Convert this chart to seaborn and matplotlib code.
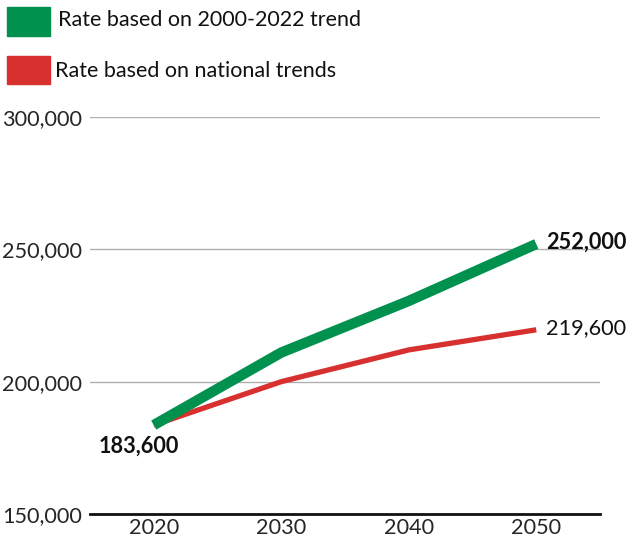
import numpy as np
import pandas as pd
import matplotlib
matplotlib.use("Agg")
import matplotlib.pyplot as plt
from matplotlib.patches import Rectangle
from matplotlib.ticker import FuncFormatter
import seaborn as sns

# data
years = [2020, 2030, 2040, 2050]
trend_2000_2022 = [183600, 211000, 230500, 252000]
national_trends = [183600, 200000, 212000, 219600]
series_names = ["Rate based on 2000-2022 trend", "Rate based on national trends"]
colors = {"Rate based on 2000-2022 trend": "#00914f",
          "Rate based on national trends": "#d7302f"}

df = pd.DataFrame({
    "year": years * 2,
    "value": trend_2000_2022 + national_trends,
    "series": [series_names[0]] * 4 + [series_names[1]] * 4,
})

sns.set_style("white")
plt.rcParams["font.family"] = ["Lato", "DejaVu Sans"]
fs = 15.6

fig = plt.figure(figsize=(6.28, 5.38), dpi=100)
ax = fig.add_axes([90 / 628, 24 / 538, 510 / 628, (514 - 117) / 538])

ax = sns.lineplot(data=df, x="year", y="value", hue="series", palette=colors,
                  ax=ax, legend=False, sort=False)
ax.lines[0].set_linewidth(7.5)
ax.lines[0].set_solid_capstyle("butt")
ax.lines[1].set_linewidth(3.8)
ax.lines[1].set_solid_capstyle("butt")
ax.lines[0].set_zorder(4)
ax.lines[1].set_zorder(3)

ax.set_xlim(2015, 2055)
ax.set_ylim(150000, 300000)
ax.set_yticks([150000, 200000, 250000, 300000])
ax.yaxis.set_major_formatter(FuncFormatter(lambda v, p: f"{int(v):,}"))
ax.set_xticks(years)
ax.set_xticks([2025, 2035, 2045], minor=True)
ax.tick_params(axis="x", which="major", length=0, labelsize=fs, pad=3)
ax.tick_params(axis="x", which="minor", length=3, width=1, color="#222222")
ax.tick_params(axis="y", length=0, labelsize=fs, pad=6)
ax.set_xlabel("")
ax.set_ylabel("")
ax.grid(axis="y", color="#b0b0b0", linewidth=1)
ax.grid(axis="x", visible=False)
for s in ["top", "right", "left"]:
    ax.spines[s].set_visible(False)
ax.spines["bottom"].set_color("#111111")
ax.spines["bottom"].set_linewidth(2)
ax.spines["bottom"].set_zorder(5)

# end labels
ax.annotate(f"{trend_2000_2022[0]:,}", (years[0], trend_2000_2022[0]),
            xytext=(-11, -15), textcoords="offset points", ha="center", va="center",
            fontsize=fs, fontweight="bold", color="#111111")
ax.annotate(f"{trend_2000_2022[-1]:,}", (years[-1], trend_2000_2022[-1]),
            xytext=(7, 1), textcoords="offset points", ha="left", va="center",
            fontsize=fs, fontweight="bold", color="#111111", annotation_clip=False)
ax.annotate(f"{national_trends[-1]:,}", (years[-1], national_trends[-1]),
            xytext=(7, 1), textcoords="offset points", ha="left", va="center",
            fontsize=fs, color="#111111", annotation_clip=False)

# legend at top
fig.add_artist(Rectangle((7 / 628, 1 - 36 / 538), 43 / 628, 29 / 538,
                         transform=fig.transFigure, color=colors[series_names[0]]))
fig.text(58 / 628, 1 - 20 / 538, series_names[0], fontsize=15.5, va="center", color="#111111")
fig.add_artist(Rectangle((7 / 628, 1 - 84 / 538), 43 / 628, 28 / 538,
                         transform=fig.transFigure, color=colors[series_names[1]]))
fig.text(55 / 628, 1 - 71 / 538, series_names[1], fontsize=15.5, va="center", color="#111111")

fig.savefig("out.png", dpi=100)
